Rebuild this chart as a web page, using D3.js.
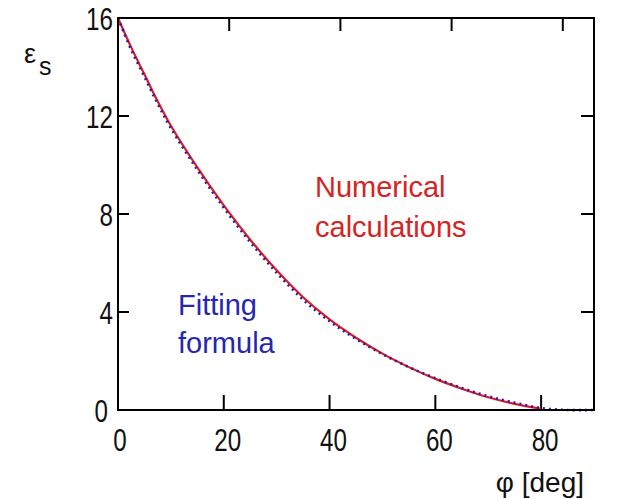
<!DOCTYPE html>
<html>
<head>
<meta charset="utf-8">
<script src="https://d3js.org/d3.v7.min.js"></script>
<style>
  body { margin: 0; background: #fff; }
  text { font-family: "Liberation Sans", Arial, sans-serif; }
</style>
</head>
<body>
<div id="chart"></div>
<script>
// values
var phi      = [0, 2.5, 5, 7.5, 10, 15, 20, 25, 30, 35, 40, 45, 50, 55, 60, 65, 70, 75, 80];
var numeric  = [16, 14.8, 13.7, 12.6, 11.6, 9.9, 8.35, 6.95, 5.7, 4.6, 3.7, 2.95, 2.3, 1.75, 1.27, 0.87, 0.52, 0.25, 0.05];
var fitPhi   = [0, 2.5, 5, 7.5, 10, 15, 20, 25, 30, 35, 40, 45, 50, 55, 60, 65, 70, 75, 80, 85, 90];
var fitting  = [16, 14.7, 13.6, 12.5, 11.5, 9.8, 8.25, 6.85, 5.6, 4.5, 3.62, 2.9, 2.28, 1.75, 1.3, 0.9, 0.56, 0.3, 0.08, 0, 0];
var xTicks   = [0, 20, 40, 60, 80];
var yTicks   = [0, 4, 8, 12, 16];

var width = 628, height = 499;
var margin = {top: 18, right: 34, bottom: 89, left: 118};

var svg = d3.select("#chart").append("svg")
  .attr("width", width)
  .attr("height", height);

var x = d3.scaleLinear().domain([0, 90]).range([margin.left, width - margin.right]);
// the top ticks are drawn a little wider apart than the bottom ones
var xTop = d3.scaleLinear().domain([0, 90]).range([margin.left, margin.left + 90 * 5.56]);
var y = d3.scaleLinear().domain([0, 16]).range([height - margin.bottom, margin.top]);

// ticks (inward)
var ticks = svg.append("g").attr("stroke", "#000").attr("stroke-width", 2);
ticks.selectAll(".tb").data(xTicks.slice(1)).join("line")
  .attr("x1", d => x(d)).attr("x2", d => x(d))
  .attr("y1", y(0)).attr("y2", y(0) - 15);
ticks.selectAll(".tt").data(xTicks.slice(1)).join("line")
  .attr("x1", d => xTop(d)).attr("x2", d => xTop(d))
  .attr("y1", y(16)).attr("y2", y(16) + 13);
ticks.selectAll(".tl").data(yTicks.slice(1, 4)).join("line")
  .attr("x1", x(0)).attr("x2", x(0) + 11)
  .attr("y1", d => y(d)).attr("y2", d => y(d));
ticks.selectAll(".tr").data(yTicks.slice(1, 4)).join("line")
  .attr("x1", x(90)).attr("x2", x(90) - 13)
  .attr("y1", d => y(d)).attr("y2", d => y(d));

// curves
var line = d3.line().x(d => x(d[0])).y(d => y(d[1])).curve(d3.curveCatmullRom);

svg.append("path")
  .datum(d3.zip(phi, numeric))
  .attr("fill", "none")
  .attr("stroke", "#dc1e24")
  .attr("stroke-width", 2.2)
  .attr("d", line);

svg.append("path")
  .datum(d3.zip(fitPhi, fitting))
  .attr("fill", "none")
  .attr("stroke", "#2c1caa")
  .attr("stroke-width", 2.6)
  .attr("stroke-dasharray", "2,4")
  .attr("d", line);

// frame
svg.append("rect")
  .attr("x", x(0)).attr("y", y(16))
  .attr("width", x(90) - x(0)).attr("height", y(0) - y(16))
  .attr("fill", "none").attr("stroke", "#000").attr("stroke-width", 2);

// tick labels (narrow digits, as in the original)
svg.append("g")
  .attr("font-size", 31).attr("fill", "#111").attr("text-anchor", "middle")
  .selectAll("text").data(xTicks).join("text")
  .attr("transform", d => `translate(${x(d) + (d === 0 ? 2 : 4)},${y(0) + 41}) scale(0.78,1)`)
  .text(d => d);

svg.append("g")
  .attr("font-size", 31).attr("fill", "#111").attr("text-anchor", "end")
  .selectAll("text").data(yTicks).join("text")
  .attr("transform", d => `translate(${d === 0 ? x(0) - 10 : x(0) - 5},${y(d) + 12}) scale(0.78,1)`)
  .text(d => d);

// axis titles
var eps = svg.append("text").attr("x", 24).attr("y", 63).attr("font-size", 27).attr("fill", "#111");
eps.append("tspan").text("ε");
eps.append("tspan").attr("dx", 3).attr("dy", 12).attr("font-size", 25).text("s");

svg.append("text")
  .attr("x", 584).attr("y", 492)
  .attr("text-anchor", "end")
  .attr("font-size", 28).attr("fill", "#111")
  .text("φ [deg]");

// annotations
svg.append("g").attr("font-size", 29).attr("fill", "#d42424")
  .selectAll("text").data(["Numerical", "calculations"]).join("text")
  .attr("x", 315)
  .attr("y", (d, i) => 197 + i * 40)
  .text(d => d);

svg.append("g").attr("font-size", 29).attr("fill", "#2626b0")
  .selectAll("text").data(["Fitting", "formula"]).join("text")
  .attr("x", 178)
  .attr("y", (d, i) => 315 + i * 38)
  .text(d => d);
</script>
</body>
</html>
